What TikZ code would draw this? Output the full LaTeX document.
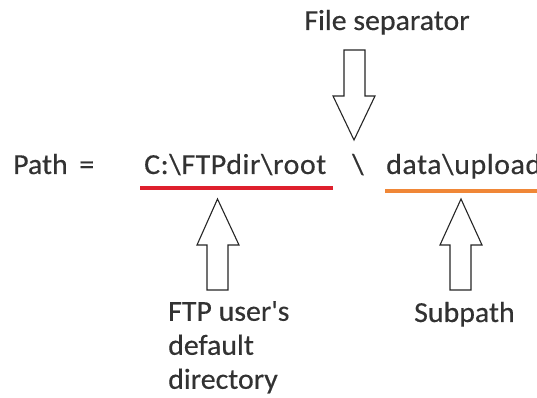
\documentclass[tikz,border=0pt]{standalone}
\usepackage{fontspec}
\setmainfont{Carlito}[FakeStretch=1.03,FakeBold=0.4]
\definecolor{inkgrey}{RGB}{50,50,50}
\definecolor{rootred}{RGB}{222,32,45}
\definecolor{suborange}{RGB}{240,135,55}
\begin{document}
\begin{tikzpicture}[x=1pt,y=1pt,
  lbl/.style={inner sep=0pt,anchor=base west,text=inkgrey,font=\fontsize{29}{34}\selectfont},
  pathtxt/.style={lbl,font=\fontsize{29}{34}\selectfont\addfontfeatures{LetterSpace=2}},
  blockarrow/.style={draw=black!85,line width=1.1pt,fill=white,line join=miter},
  underline/.style={line width=3.5pt}]
\useasboundingbox (0,0) rectangle (537,398);
\fill[white] (0,0) rectangle (537,398);

% the path expression
\node[lbl] (path) at (13,224) {Path \,=};
\node[pathtxt] (root) at (144,224) {C:\textbackslash FTPdir\textbackslash root};
\node[pathtxt] (sep) at (352,224) {\textbackslash};
\node[pathtxt] (sub) at (386,224) {data\textbackslash upload};

% coloured underlines
\draw[underline,rootred] (140,210) -- (333,210);
\draw[underline,suborange] (385,207) -- (537,207);

% captions
\node[lbl,anchor=base] (filesep) at (387,368) {File separator};
\node[lbl,align=left,anchor=north west] (ftpuser) at (168,97) {FTP user\textquotesingle s\\default\\directory};
\node[lbl] (subpath) at (414,76) {Subpath};

% hollow block arrows
\draw[blockarrow] (344,348) -- (365,348) -- (365,302) -- (375,302) -- (354,258)
  -- (333,302) -- (344,302) -- cycle;
\draw[blockarrow] (217.5,199) -- (239,153) -- (228,153) -- (228,108) -- (207,108)
  -- (207,153) -- (197,153) -- cycle;
\draw[blockarrow] (461,199) -- (482,153) -- (471,153) -- (471,108) -- (450,108)
  -- (450,153) -- (440,153) -- cycle;
\end{tikzpicture}
\end{document}
